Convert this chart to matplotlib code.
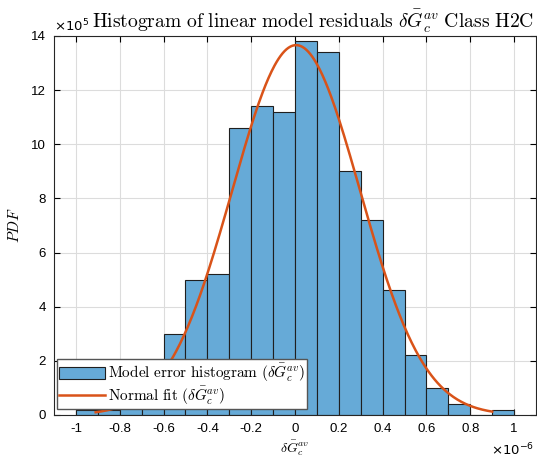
import numpy as np
import matplotlib
matplotlib.use("Agg")
import matplotlib.pyplot as plt

plt.rcParams['font.family'] = ['Liberation Sans', 'DejaVu Sans']
plt.rcParams['mathtext.fontset'] = 'cm'

# histogram bins (x in units of 1e-6), PDF heights (units of 1e5)
bin_edges = [-1.0, -0.9, -0.8, -0.7, -0.6, -0.5, -0.4, -0.3, -0.2, -0.1, 0.0,
             0.1, 0.2, 0.3, 0.4, 0.5, 0.6, 0.7, 0.8, 0.9, 1.0]
pdf_vals = [0.2, 0.2, 0.4, 1.0, 3.0, 5.0, 5.2, 10.6, 11.4, 11.2, 13.8,
            13.4, 9.0, 7.2, 4.6, 2.2, 1.0, 0.4, 0.0, 0.2]

# normal fit parameters (units of 1e-6), plotted over data range
fit_mu = 0.005
fit_sigma = 0.292
fit_range = (-0.91, 0.90)

xticks = [-1, -0.8, -0.6, -0.4, -0.2, 0, 0.2, 0.4, 0.6, 0.8, 1]
xticklabels = ['-1', '-0.8', '-0.6', '-0.4', '-0.2', '0', '0.2', '0.4', '0.6', '0.8', '1']
yticks = [0, 2, 4, 6, 8, 10, 12, 14]

fig = plt.figure(figsize=(5.37, 4.63), dpi=100)
ax = fig.add_axes([0.1006, 0.1037, 0.8976, 0.8186])

edges = np.array(bin_edges)
bars = ax.bar(edges[:-1], pdf_vals, width=np.diff(edges), align='edge',
              color='#66AAD7', edgecolor='#1f1f1f', linewidth=0.8, zorder=2)

xs = np.linspace(fit_range[0], fit_range[1], 400)
ys = np.exp(-0.5 * ((xs - fit_mu) / fit_sigma) ** 2) / (fit_sigma * np.sqrt(2 * np.pi)) * 10
line, = ax.plot(xs, ys, color='#D95319', lw=1.8, zorder=3)

ax.set_xlim(-1.1, 1.1)
ax.set_ylim(0, 14)
ax.set_xticks(xticks)
ax.set_xticklabels(xticklabels)
ax.set_yticks(yticks)
ax.tick_params(direction='in', top=True, right=True, labelsize=9.5, length=4, width=0.8, pad=6)
ax.grid(True, color='#dcdcdc', lw=0.8, zorder=0)
ax.set_axisbelow(True)
for s in ax.spines.values():
    s.set_linewidth(0.8)
    s.set_color('#262626')

ax.set_xlabel(r'$\delta\bar{G}_c^{av}$', fontsize=10, labelpad=2)
ax.set_ylabel(r'$PDF$', fontsize=11, labelpad=6)

fig.text(313 / 537, 1 - 21 / 463, r'$\mathrm{Histogram\ of\ linear\ model\ residuals}\ \delta\bar{G}_c^{av}\ \mathrm{Class\ H2C}$',
         ha='center', va='center', fontsize=14.1)
fig.text(54 / 537, 1 - 26 / 463, r'$\times10^{5}$', ha='left', va='center', fontsize=9.5,
         math_fontfamily='dejavusans')
fig.text(534 / 537, 1 - 450 / 463, r'$\times10^{-6}$', ha='right', va='center', fontsize=9.5,
         math_fontfamily='dejavusans')

labels = [r'$\mathrm{Model\ error\ histogram}\ (\delta\bar{G}_c^{av})$',
          r'$\mathrm{Normal\ fit}\ (\delta\bar{G}_c^{av})$']
leg = ax.legend([bars, line], labels, loc='lower left', bbox_to_anchor=(0.006, 0.016), fontsize=11,
                frameon=True, fancybox=False, framealpha=1, edgecolor='#555555', borderpad=0.15,
                handlelength=3.0, handleheight=0.8, handletextpad=0.2, labelspacing=0.0,
                borderaxespad=0.0)
leg.get_frame().set_linewidth(1.0)

fig.savefig('out.png', dpi=100)
